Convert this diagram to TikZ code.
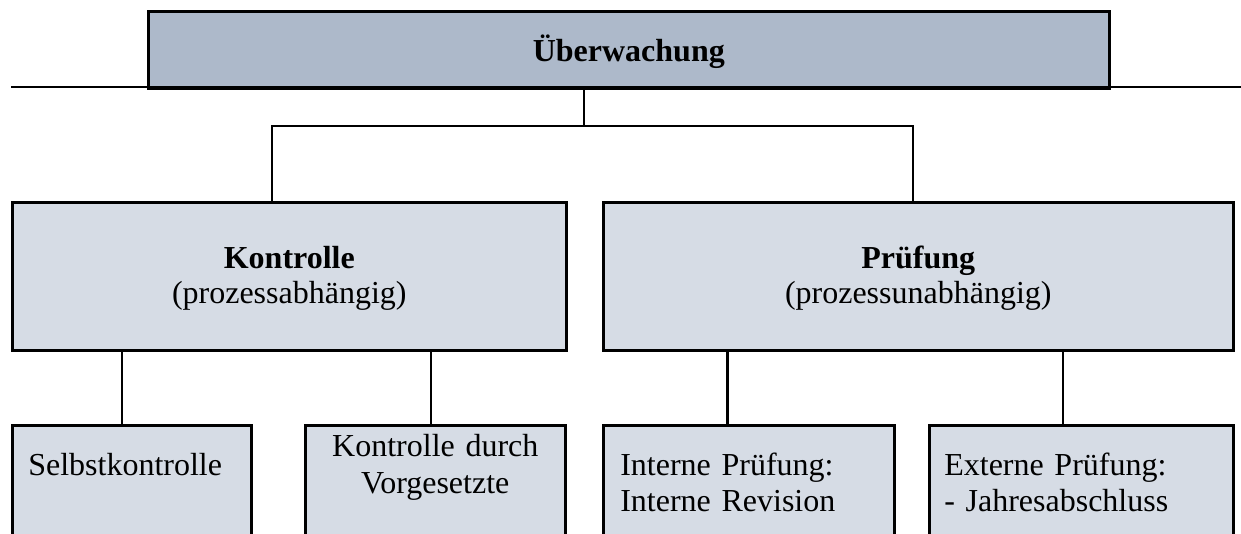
\documentclass[tikz,border=0pt]{standalone}
\usepackage{fontspec}
\setmainfont{Liberation Serif}
\definecolor{headfill}{HTML}{ADB9CA}
\definecolor{boxfill}{HTML}{D6DCE5}
\begin{document}
\begin{tikzpicture}[x=1pt, y=-1pt,
  link/.style={draw=black, line width=2.4pt},
  box/.style={draw=black, line width=2.6pt, rectangle, anchor=north west,
    inner ysep=0pt, fill=boxfill},
  txt/.style={font=\fontsize{32}{36}\selectfont}]
\path[use as bounding box, clip] (0,0) rectangle (1241,533);

% top level
\node[box, fill=headfill, text width=961pt, inner xsep=0pt, align=center,
  text height=50pt, text depth=27pt, font=\bfseries\fontsize{32}{36}\selectfont]
  (ueb) at (147,10) {Überwachung};

% middle level
\node[box, text width=554pt, inner xsep=0pt, align=center,
  text height=66pt, text depth=82pt, font=\fontsize{32}{35}\selectfont]
  (kon) at (11,201) {\textbf{Kontrolle}\\(prozessabhängig)};
\node[box, text width=630pt, inner xsep=0pt, align=center,
  text height=66pt, text depth=82pt, font=\fontsize{32}{35}\selectfont]
  (pru) at (602,201) {\textbf{Prüfung}\\(prozessunabhängig)};

% bottom level
\node[box, txt, text width=207pt, inner xsep=16pt, align=left,
  text height=50pt, text depth=200pt]
  (sel) at (11,424) {Selbstkontrolle};
\node[box, text width=260pt, inner xsep=0pt, align=center,
  text height=31pt, text depth=200pt, font=\fontsize{32}{37.5}\selectfont]
  (vor) at (304,424) {Kontrolle durch\\Vorgesetzte};
\node[box, txt, text width=257pt, inner xsep=17pt, align=left,
  text height=50pt, text depth=200pt]
  (int) at (602,424) {Interne Prüfung:\\Interne Revision};
\node[box, txt, text width=274pt, inner xsep=15pt, align=left,
  text height=50pt, text depth=200pt]
  (ext) at (928,424) {Externe Prüfung:\\- Jahresabschluss};

% rule under the title and fork points
\coordinate (ruleL) at (11,87);
\coordinate (ruleR) at (1241,87);
\coordinate (trunk) at (584,126);
\coordinate (forkL) at (272,126);
\coordinate (forkR) at (913,126);
\coordinate (s1) at (122,0);
\coordinate (s2) at (431,0);
\coordinate (s3) at (727.5,0);
\coordinate (s4) at (1063,0);

\draw[link] (ruleL) -- (ruleR);
\draw[link] (ueb.south -| trunk) -- (trunk);
\draw[link] (forkL |- kon.north) -- (forkL) -- (forkR) -- (forkR |- pru.north);
\draw[link] (kon.south -| s1) -- (sel.north -| s1);
\draw[link] (kon.south -| s2) -- (vor.north -| s2);
\draw[link] (pru.south -| s3) -- (int.north -| s3);
\draw[link] (pru.south -| s4) -- (ext.north -| s4);
\end{tikzpicture}
\end{document}
